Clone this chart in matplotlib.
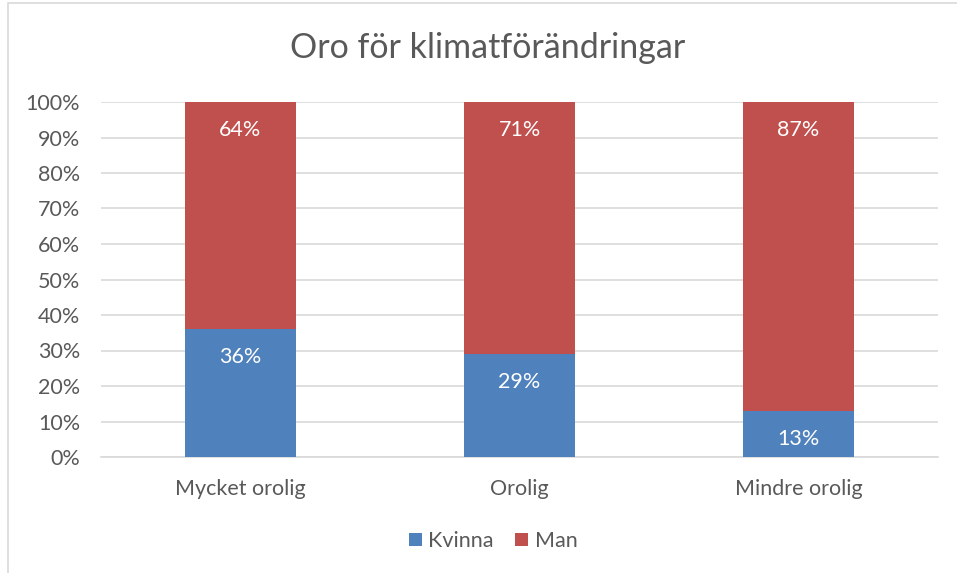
import matplotlib
matplotlib.use("Agg")
import matplotlib.pyplot as plt
from matplotlib.patches import Rectangle
from matplotlib.ticker import PercentFormatter

categories = ["Mycket orolig", "Orolig", "Mindre orolig"]
kvinna = [36, 29, 13]
man = [64, 71, 87]
series_names = ["Kvinna", "Man"]
yticks = [0, 10, 20, 30, 40, 50, 60, 70, 80, 90, 100]

plt.rcParams['font.family'] = ['Lato', 'DejaVu Sans']
blue = "#4F81BD"
red = "#C0504D"
txt = "#595959"
fs = 15.5

fig = plt.figure(figsize=(9.57, 5.73), dpi=100)
fig.patches.append(Rectangle((8/957, -0.01), 1.1, 1 - 3/573 + 0.01, transform=fig.transFigure,
                             fill=False, edgecolor="#D9D9D9", lw=1.2))
ax = fig.add_axes([101/957, 1 - 457/573, 837/957, 355/573])
x = list(range(len(categories)))
b1 = ax.bar(x, kvinna, width=0.4, color=blue, label=series_names[0], zorder=3)
b2 = ax.bar(x, man, width=0.4, bottom=kvinna, color=red, label=series_names[1], zorder=3)
for i in x:
    ax.text(i, kvinna[i] - 7.8, f"{kvinna[i]}%", ha="center", va="center", color="white", fontsize=fs)
    ax.text(i, 100 - 7.8, f"{man[i]}%", ha="center", va="center", color="white", fontsize=fs)

ax.set_xlim(-0.5, 2.5)
ax.set_ylim(0, 100)
ax.set_yticks(yticks)
ax.yaxis.set_major_formatter(PercentFormatter(decimals=0))
ax.set_xticks(x)
ax.set_xticklabels(categories)
ax.tick_params(axis="both", length=0, labelsize=fs, labelcolor=txt)
ax.tick_params(axis="x", pad=16)
ax.tick_params(axis="y", pad=15)
ax.grid(axis="y", color="#D9D9D9", lw=1.2, zorder=0)
for s in ["top", "right", "left"]:
    ax.spines[s].set_visible(False)
ax.spines["bottom"].set_color("#D9D9D9")
ax.spines["bottom"].set_linewidth(1.2)

fig.text(488/957, 1 - 48/573, "Oro för klimatförändringar", ha="center", va="center",
         fontsize=24.5, color=txt)
fig.legend(handles=[b1, b2], labels=series_names, loc="center", bbox_to_anchor=(493/957, 1 - 541/573),
           ncol=2, frameon=False, fontsize=fs, labelcolor=txt, handlelength=0.6, handleheight=0.6,
           handletextpad=0.3, columnspacing=1.0)

fig.savefig("out.png", dpi=100)
